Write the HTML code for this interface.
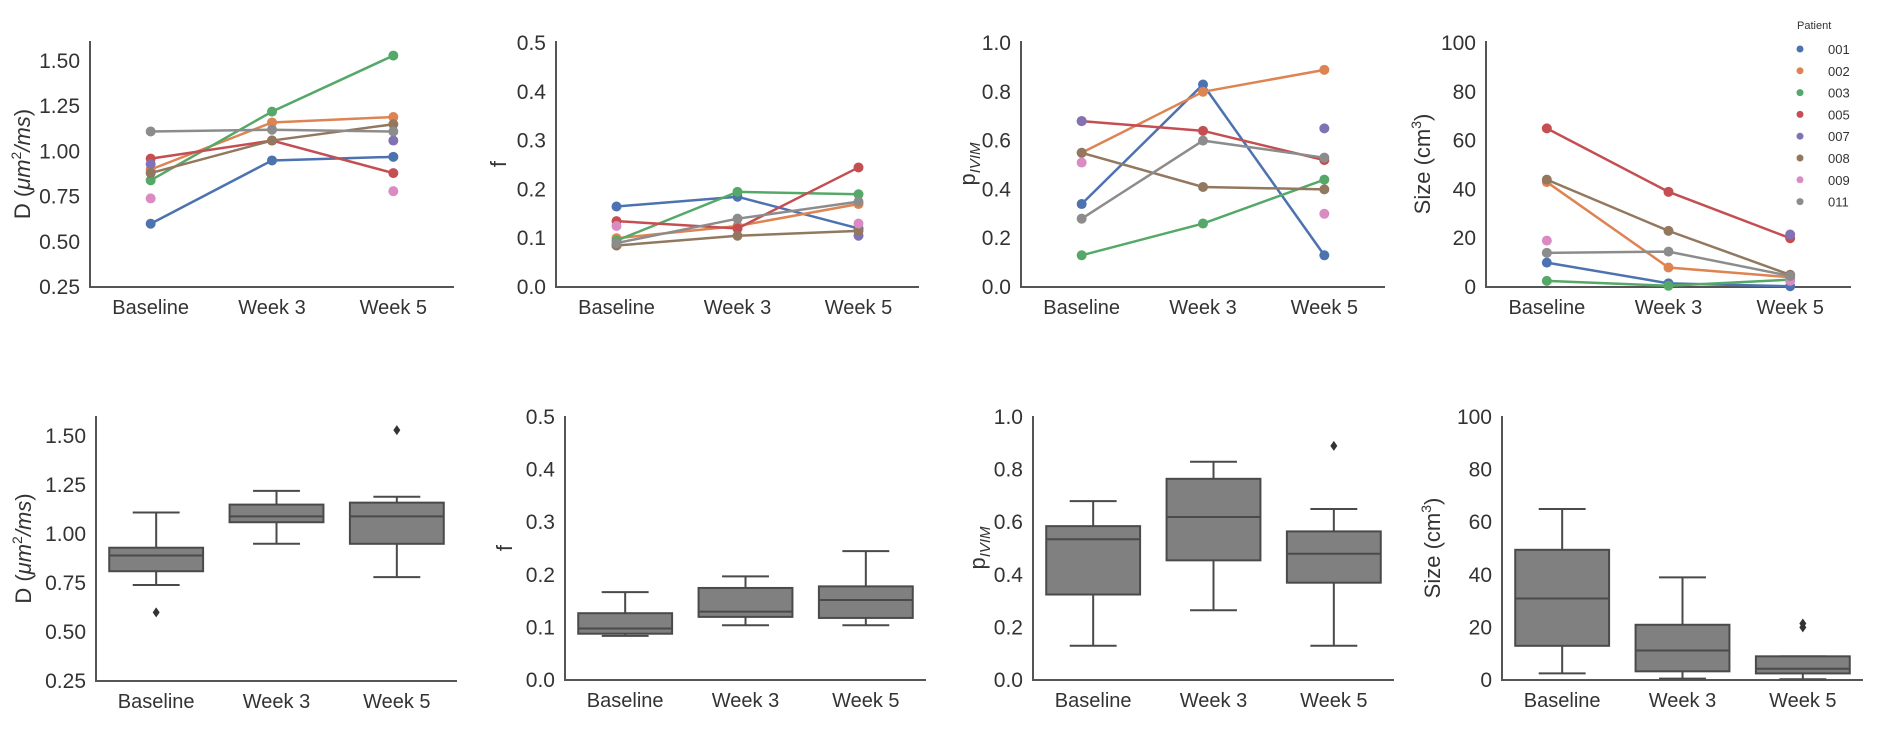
<!DOCTYPE html>
<html><head><meta charset="utf-8"><style>
html,body{margin:0;padding:0;background:#fff;}
svg{display:block;font-family:"Liberation Sans",sans-serif;}
</style></head><body>
<svg id="fig" width="1878" height="748" viewBox="0 0 1878 748" xmlns="http://www.w3.org/2000/svg"></svg>
<script>
const categories = ["Baseline","Week 3","Week 5"];
const patients = ["001","002","003","005","007","008","009","011"];
const colors = ["#4c72b0","#dd8452","#55a868","#c44e52","#8172b3","#937860","#da8bc3","#8c8c8c"];
// line data per patient (null = missing)
const dValues = [[0.60,0.95,0.97],[0.90,1.16,1.19],[0.84,1.22,1.53],[0.96,1.06,0.88],[0.93,null,1.06],[0.88,1.06,1.15],[0.74,null,0.78],[1.11,1.12,1.11]];
const fValues = [[0.165,0.185,0.12],[0.10,0.125,0.17],[0.095,0.195,0.19],[0.135,0.12,0.245],[0.085,null,0.105],[0.085,0.105,0.115],[0.125,null,0.13],[0.09,0.14,0.175]];
const pValues = [[0.34,0.83,0.13],[0.55,0.80,0.89],[0.13,0.26,0.44],[0.68,0.64,0.52],[0.68,null,0.65],[0.55,0.41,0.40],[0.51,null,0.30],[0.28,0.60,0.53]];
const sizeValues = [[10,1.5,0.3],[43,8,4],[2.5,0.5,3],[65,39,20],[null,null,21.5],[44,23,5],[19,null,2.5],[14,14.5,4.5]];
// box stats: [whislo,q1,median,q3,whishi]
const dBoxes = [[0.74,0.81,0.89,0.93,1.11],[0.95,1.06,1.09,1.15,1.22],[0.78,0.95,1.09,1.16,1.19]];
const dOutliers = [[0.60],[],[1.53]];
const fBoxes = [[0.084,0.088,0.098,0.127,0.167],[0.104,0.12,0.13,0.175,0.197],[0.104,0.118,0.152,0.178,0.245]];
const fOutliers = [[],[],[]];
const pBoxes = [[0.13,0.325,0.535,0.585,0.68],[0.265,0.455,0.62,0.765,0.83],[0.13,0.37,0.48,0.565,0.65]];
const pOutliers = [[],[],[0.89]];
const sizeBoxes = [[2.5,13,31,49.5,65],[0.5,3.3,11.2,21,39],[0.3,2.5,4.3,9,9]];
const sizeOutliers = [[],[],[20,21.5]];
const dTicks = [0.25,0.50,0.75,1.00,1.25,1.50];
const fTicks = [0.0,0.1,0.2,0.3,0.4,0.5];
const pTicks = [0.0,0.2,0.4,0.6,0.8,1.0];
const sizeTicks = [0,20,40,60,80,100];

const NS="http://www.w3.org/2000/svg";
const svg=document.getElementById('fig');
function mk(tag,attrs,parent){const e=document.createElementNS(NS,tag);for(const k in attrs)e.setAttribute(k,attrs[k]);(parent||svg).appendChild(e);return e;}

function axes(p){
  const g=mk('g',{});
  
  
  const y=v=>p.y1+(p.vmax-v)/(p.vmax-p.vmin)*(p.y0-p.y1);
  const x=i=>p.x0+(p.x1-p.x0)*(2*i+1)/6;
  const ax=mk('path',{d:`M${p.x0} ${p.top}V${p.y0}H${p.x1}`,fill:'none',stroke:'#555',"stroke-width":2},g);
  
  
  p.ticks.forEach(t=>{
    const tx=mk('text',{x:p.x0-10,y:y(t)+7,"text-anchor":"end","font-size":21,fill:'#333'},g);
    tx.textContent=t.toFixed(p.dec);
    
    
  });
  categories.forEach((c,i)=>{
    const tx=mk('text',{x:x(i),y:p.y0+27,"text-anchor":"middle","font-size":20,fill:'#333'},g);
    tx.textContent=c;
    
    
  });
  const lab=mk('text',{transform:`translate(${p.lx},${(p.top+p.y0)/2}) rotate(-90)`,"text-anchor":"middle","font-size":22,fill:'#333'},g);
  lab.innerHTML=p.label;
  
  
  return {g,x,y};
}
function linePanel(p,vals){
  const {g,x,y}=axes(p);
  vals.forEach((row,k)=>{
    let d='';let prev=false;
    row.forEach((v,i)=>{if(v===null){prev=false;return;}d+=(prev?'L':'M')+x(i)+' '+y(v);prev=true;});
    if(d){const l=mk('path',{d,fill:'none',stroke:colors[k],"stroke-width":2.5},g);
      
      }
    row.forEach((v,i)=>{if(v===null)return;
      const c=mk('circle',{cx:x(i),cy:y(v),r:5,fill:colors[k]},g);
      
      });
  });
}
function boxPanel(p,boxes,outs){
  const {g,x,y}=axes(p);
  const w=(p.x1-p.x0)/3*0.78;
  boxes.forEach((b,i)=>{
    const cx=x(i),st='#4a4a4a';
    const wl=mk('line',{x1:cx,x2:cx,y1:y(b[0]),y2:y(b[4]),stroke:st,"stroke-width":2},g);
    
    
    [b[0],b[4]].forEach(v=>{const cap=mk('line',{x1:cx-w/4,x2:cx+w/4,y1:y(v),y2:y(v),stroke:st,"stroke-width":2},g);
      
      });
    const r=mk('rect',{x:cx-w/2,y:y(b[3]),width:w,height:y(b[1])-y(b[3]),fill:'#808080',stroke:st,"stroke-width":2},g);
    
    
    const m=mk('line',{x1:cx-w/2,x2:cx+w/2,y1:y(b[2]),y2:y(b[2]),stroke:st,"stroke-width":2},g);
    
    
    outs[i].forEach(v=>{const o=mk('path',{d:`M${cx} ${y(v)-5}L${cx+3.5} ${y(v)}L${cx} ${y(v)+5}L${cx-3.5} ${y(v)}Z`,fill:'#333'},g);
      
      });
  });
}
const Dlab='D (<tspan font-style="italic">μm</tspan><tspan font-size="14" dy="-9">2</tspan><tspan font-style="italic" dy="9">/ms</tspan>)';
const Plab='p<tspan font-size="15" font-style="italic" dy="5">IVIM</tspan>';
const Slab='Size (cm<tspan font-size="14" dy="-9">3</tspan><tspan dy="9">)</tspan>';
linePanel({name:'d-line',x0:90,x1:454,top:41,y0:287,y1:61,vmin:0.25,vmax:1.50,ticks:dTicks,dec:2,lx:30,label:Dlab},dValues);
linePanel({name:'f-line',x0:556,x1:919,top:41,y0:287,y1:43,vmin:0,vmax:0.5,ticks:fTicks,dec:1,lx:506,label:'f'},fValues);
linePanel({name:'p-line',x0:1021,x1:1385,top:41,y0:287,y1:43,vmin:0,vmax:1,ticks:pTicks,dec:1,lx:975,label:Plab},pValues);
linePanel({name:'size-line',x0:1486,x1:1851,top:41,y0:287,y1:43,vmin:0,vmax:100,ticks:sizeTicks,dec:0,lx:1430,label:Slab},sizeValues);
boxPanel({name:'d-box',x0:96,x1:457,top:416,y0:681,y1:436,vmin:0.25,vmax:1.50,ticks:dTicks,dec:2,lx:31,label:Dlab},dBoxes,dOutliers);
boxPanel({name:'f-box',x0:565,x1:926,top:416,y0:680,y1:417,vmin:0,vmax:0.5,ticks:fTicks,dec:1,lx:512,label:'f'},fBoxes,fOutliers);
boxPanel({name:'p-box',x0:1033,x1:1394,top:416,y0:680,y1:417,vmin:0,vmax:1,ticks:pTicks,dec:1,lx:985,label:Plab},pBoxes,pOutliers);
boxPanel({name:'size-box',x0:1502,x1:1863,top:416,y0:680,y1:417,vmin:0,vmax:100,ticks:sizeTicks,dec:0,lx:1440,label:Slab},sizeBoxes,sizeOutliers);
// legend
const lg=mk('g',{});


const lt=mk('text',{x:1797,y:29,"font-size":11,fill:'#333'},lg);lt.textContent='Patient';


patients.forEach((pt,k)=>{
  const yy=49+k*21.8;
  const c=mk('circle',{cx:1800,cy:yy,r:3.5,fill:colors[k]},lg);
  
  
  const t=mk('text',{x:1828,y:yy+5,"font-size":13,fill:'#333'},lg);t.textContent=pt;
  
  
});
</script>
</body></html>
